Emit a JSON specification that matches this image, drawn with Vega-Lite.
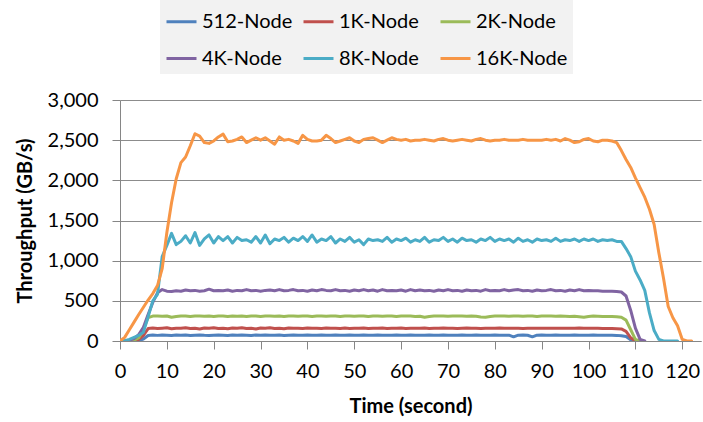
{
  "$schema": "https://vega.github.io/schema/vega-lite/v6.json",
  "width": 581,
  "height": 241,
  "autosize": {"type": "none"},
  "padding": {"left": 120, "top": 100, "right": 2, "bottom": 81},
  "background": "white",
  "config": {
    "view": {"stroke": null},
    "font": "Lato"
  },
  "data": {
    "values": [
      {"t":0,"512-Node":0,"1K-Node":0,"2K-Node":0,"4K-Node":0,"8K-Node":0,"16K-Node":0},
      {"t":1,"512-Node":0,"1K-Node":0,"2K-Node":2,"4K-Node":3,"8K-Node":5,"16K-Node":45},
      {"t":2,"512-Node":0,"1K-Node":2,"2K-Node":5,"4K-Node":10,"8K-Node":20,"16K-Node":140},
      {"t":3,"512-Node":2,"1K-Node":5,"2K-Node":10,"4K-Node":30,"8K-Node":45,"16K-Node":235},
      {"t":4,"512-Node":5,"1K-Node":20,"2K-Node":40,"4K-Node":80,"8K-Node":70,"16K-Node":330},
      {"t":5,"512-Node":25,"1K-Node":70,"2K-Node":150,"4K-Node":170,"8K-Node":110,"16K-Node":420},
      {"t":6,"512-Node":68,"1K-Node":155,"2K-Node":290,"4K-Node":330,"8K-Node":300,"16K-Node":510},
      {"t":7,"512-Node":74,"1K-Node":162,"2K-Node":310,"4K-Node":480,"8K-Node":500,"16K-Node":590},
      {"t":8,"512-Node":70,"1K-Node":155,"2K-Node":312,"4K-Node":600,"8K-Node":580,"16K-Node":690},
      {"t":9,"512-Node":76,"1K-Node":160,"2K-Node":308,"4K-Node":640,"8K-Node":1050,"16K-Node":900},
      {"t":10,"512-Node":72,"1K-Node":165,"2K-Node":312,"4K-Node":620,"8K-Node":1190,"16K-Node":1350},
      {"t":11,"512-Node":68,"1K-Node":152,"2K-Node":295,"4K-Node":615,"8K-Node":1340,"16K-Node":1720},
      {"t":12,"512-Node":74,"1K-Node":160,"2K-Node":305,"4K-Node":625,"8K-Node":1200,"16K-Node":2020},
      {"t":13,"512-Node":71,"1K-Node":158,"2K-Node":312,"4K-Node":620,"8K-Node":1240,"16K-Node":2220},
      {"t":14,"512-Node":76,"1K-Node":165,"2K-Node":310,"4K-Node":635,"8K-Node":1310,"16K-Node":2290},
      {"t":15,"512-Node":69,"1K-Node":155,"2K-Node":305,"4K-Node":625,"8K-Node":1220,"16K-Node":2430},
      {"t":16,"512-Node":73,"1K-Node":160,"2K-Node":312,"4K-Node":630,"8K-Node":1350,"16K-Node":2580},
      {"t":17,"512-Node":76,"1K-Node":150,"2K-Node":310,"4K-Node":620,"8K-Node":1190,"16K-Node":2550},
      {"t":18,"512-Node":71,"1K-Node":162,"2K-Node":308,"4K-Node":625,"8K-Node":1270,"16K-Node":2470},
      {"t":19,"512-Node":68,"1K-Node":158,"2K-Node":312,"4K-Node":645,"8K-Node":1320,"16K-Node":2460},
      {"t":20,"512-Node":73,"1K-Node":165,"2K-Node":306,"4K-Node":625,"8K-Node":1220,"16K-Node":2490},
      {"t":21,"512-Node":76,"1K-Node":155,"2K-Node":312,"4K-Node":630,"8K-Node":1300,"16K-Node":2540},
      {"t":22,"512-Node":72,"1K-Node":160,"2K-Node":310,"4K-Node":625,"8K-Node":1250,"16K-Node":2575},
      {"t":23,"512-Node":69,"1K-Node":152,"2K-Node":305,"4K-Node":635,"8K-Node":1300,"16K-Node":2480},
      {"t":24,"512-Node":75,"1K-Node":162,"2K-Node":312,"4K-Node":620,"8K-Node":1220,"16K-Node":2490},
      {"t":25,"512-Node":71,"1K-Node":158,"2K-Node":308,"4K-Node":630,"8K-Node":1290,"16K-Node":2510},
      {"t":26,"512-Node":76,"1K-Node":165,"2K-Node":312,"4K-Node":625,"8K-Node":1250,"16K-Node":2540},
      {"t":27,"512-Node":73,"1K-Node":155,"2K-Node":305,"4K-Node":640,"8K-Node":1260,"16K-Node":2470},
      {"t":28,"512-Node":69,"1K-Node":160,"2K-Node":310,"4K-Node":625,"8K-Node":1230,"16K-Node":2500},
      {"t":29,"512-Node":75,"1K-Node":150,"2K-Node":312,"4K-Node":630,"8K-Node":1300,"16K-Node":2530},
      {"t":30,"512-Node":72,"1K-Node":162,"2K-Node":306,"4K-Node":620,"8K-Node":1220,"16K-Node":2500},
      {"t":31,"512-Node":76,"1K-Node":158,"2K-Node":310,"4K-Node":630,"8K-Node":1320,"16K-Node":2530},
      {"t":32,"512-Node":71,"1K-Node":165,"2K-Node":312,"4K-Node":635,"8K-Node":1210,"16K-Node":2490},
      {"t":33,"512-Node":73,"1K-Node":155,"2K-Node":308,"4K-Node":625,"8K-Node":1270,"16K-Node":2450},
      {"t":34,"512-Node":75,"1K-Node":160,"2K-Node":312,"4K-Node":640,"8K-Node":1250,"16K-Node":2540},
      {"t":35,"512-Node":69,"1K-Node":152,"2K-Node":305,"4K-Node":625,"8K-Node":1290,"16K-Node":2500},
      {"t":36,"512-Node":73,"1K-Node":162,"2K-Node":310,"4K-Node":630,"8K-Node":1230,"16K-Node":2510},
      {"t":37,"512-Node":75,"1K-Node":158,"2K-Node":312,"4K-Node":640,"8K-Node":1280,"16K-Node":2490},
      {"t":38,"512-Node":71,"1K-Node":160,"2K-Node":308,"4K-Node":625,"8K-Node":1250,"16K-Node":2460},
      {"t":39,"512-Node":73,"1K-Node":155,"2K-Node":310,"4K-Node":630,"8K-Node":1300,"16K-Node":2560},
      {"t":40,"512-Node":75,"1K-Node":162,"2K-Node":312,"4K-Node":620,"8K-Node":1240,"16K-Node":2510},
      {"t":41,"512-Node":73,"1K-Node":158,"2K-Node":306,"4K-Node":635,"8K-Node":1320,"16K-Node":2490},
      {"t":42,"512-Node":72,"1K-Node":160,"2K-Node":310,"4K-Node":625,"8K-Node":1230,"16K-Node":2490},
      {"t":43,"512-Node":75,"1K-Node":155,"2K-Node":312,"4K-Node":640,"8K-Node":1270,"16K-Node":2500},
      {"t":44,"512-Node":73,"1K-Node":162,"2K-Node":308,"4K-Node":630,"8K-Node":1250,"16K-Node":2560},
      {"t":45,"512-Node":71,"1K-Node":158,"2K-Node":310,"4K-Node":625,"8K-Node":1300,"16K-Node":2520},
      {"t":46,"512-Node":75,"1K-Node":160,"2K-Node":312,"4K-Node":640,"8K-Node":1220,"16K-Node":2470},
      {"t":47,"512-Node":73,"1K-Node":155,"2K-Node":306,"4K-Node":625,"8K-Node":1270,"16K-Node":2490},
      {"t":48,"512-Node":72,"1K-Node":162,"2K-Node":310,"4K-Node":630,"8K-Node":1240,"16K-Node":2510},
      {"t":49,"512-Node":75,"1K-Node":156,"2K-Node":312,"4K-Node":620,"8K-Node":1290,"16K-Node":2530},
      {"t":50,"512-Node":73,"1K-Node":160,"2K-Node":308,"4K-Node":635,"8K-Node":1230,"16K-Node":2490},
      {"t":51,"512-Node":71,"1K-Node":158,"2K-Node":310,"4K-Node":625,"8K-Node":1260,"16K-Node":2470},
      {"t":52,"512-Node":75,"1K-Node":162,"2K-Node":312,"4K-Node":640,"8K-Node":1200,"16K-Node":2510},
      {"t":53,"512-Node":73,"1K-Node":155,"2K-Node":305,"4K-Node":625,"8K-Node":1270,"16K-Node":2520},
      {"t":54,"512-Node":72,"1K-Node":160,"2K-Node":310,"4K-Node":635,"8K-Node":1250,"16K-Node":2530},
      {"t":55,"512-Node":75,"1K-Node":158,"2K-Node":312,"4K-Node":620,"8K-Node":1260,"16K-Node":2500},
      {"t":56,"512-Node":73,"1K-Node":162,"2K-Node":308,"4K-Node":640,"8K-Node":1240,"16K-Node":2470},
      {"t":57,"512-Node":71,"1K-Node":155,"2K-Node":310,"4K-Node":625,"8K-Node":1290,"16K-Node":2500},
      {"t":58,"512-Node":73,"1K-Node":160,"2K-Node":312,"4K-Node":630,"8K-Node":1230,"16K-Node":2530},
      {"t":59,"512-Node":75,"1K-Node":158,"2K-Node":306,"4K-Node":625,"8K-Node":1270,"16K-Node":2510},
      {"t":60,"512-Node":73,"1K-Node":162,"2K-Node":310,"4K-Node":635,"8K-Node":1250,"16K-Node":2500},
      {"t":61,"512-Node":72,"1K-Node":156,"2K-Node":312,"4K-Node":620,"8K-Node":1280,"16K-Node":2510},
      {"t":62,"512-Node":75,"1K-Node":160,"2K-Node":310,"4K-Node":640,"8K-Node":1230,"16K-Node":2490},
      {"t":63,"512-Node":73,"1K-Node":158,"2K-Node":306,"4K-Node":625,"8K-Node":1260,"16K-Node":2500},
      {"t":64,"512-Node":71,"1K-Node":160,"2K-Node":308,"4K-Node":635,"8K-Node":1240,"16K-Node":2500},
      {"t":65,"512-Node":73,"1K-Node":162,"2K-Node":295,"4K-Node":625,"8K-Node":1290,"16K-Node":2510},
      {"t":66,"512-Node":75,"1K-Node":156,"2K-Node":305,"4K-Node":630,"8K-Node":1230,"16K-Node":2500},
      {"t":67,"512-Node":73,"1K-Node":160,"2K-Node":310,"4K-Node":620,"8K-Node":1260,"16K-Node":2490},
      {"t":68,"512-Node":72,"1K-Node":158,"2K-Node":312,"4K-Node":635,"8K-Node":1250,"16K-Node":2510},
      {"t":69,"512-Node":75,"1K-Node":162,"2K-Node":310,"4K-Node":625,"8K-Node":1290,"16K-Node":2520},
      {"t":70,"512-Node":73,"1K-Node":158,"2K-Node":308,"4K-Node":640,"8K-Node":1240,"16K-Node":2500},
      {"t":71,"512-Node":71,"1K-Node":160,"2K-Node":310,"4K-Node":625,"8K-Node":1270,"16K-Node":2490},
      {"t":72,"512-Node":73,"1K-Node":156,"2K-Node":312,"4K-Node":630,"8K-Node":1230,"16K-Node":2500},
      {"t":73,"512-Node":75,"1K-Node":160,"2K-Node":310,"4K-Node":620,"8K-Node":1280,"16K-Node":2510},
      {"t":74,"512-Node":73,"1K-Node":162,"2K-Node":308,"4K-Node":635,"8K-Node":1250,"16K-Node":2500},
      {"t":75,"512-Node":72,"1K-Node":158,"2K-Node":310,"4K-Node":625,"8K-Node":1260,"16K-Node":2490},
      {"t":76,"512-Node":75,"1K-Node":160,"2K-Node":308,"4K-Node":630,"8K-Node":1230,"16K-Node":2510},
      {"t":77,"512-Node":73,"1K-Node":155,"2K-Node":300,"4K-Node":620,"8K-Node":1270,"16K-Node":2520},
      {"t":78,"512-Node":71,"1K-Node":160,"2K-Node":296,"4K-Node":640,"8K-Node":1250,"16K-Node":2500},
      {"t":79,"512-Node":73,"1K-Node":158,"2K-Node":306,"4K-Node":625,"8K-Node":1290,"16K-Node":2490},
      {"t":80,"512-Node":75,"1K-Node":160,"2K-Node":310,"4K-Node":630,"8K-Node":1240,"16K-Node":2500},
      {"t":81,"512-Node":73,"1K-Node":162,"2K-Node":312,"4K-Node":625,"8K-Node":1270,"16K-Node":2500},
      {"t":82,"512-Node":72,"1K-Node":158,"2K-Node":310,"4K-Node":640,"8K-Node":1250,"16K-Node":2510},
      {"t":83,"512-Node":73,"1K-Node":160,"2K-Node":308,"4K-Node":625,"8K-Node":1270,"16K-Node":2500},
      {"t":84,"512-Node":52,"1K-Node":158,"2K-Node":310,"4K-Node":635,"8K-Node":1230,"16K-Node":2500},
      {"t":85,"512-Node":73,"1K-Node":160,"2K-Node":312,"4K-Node":640,"8K-Node":1280,"16K-Node":2500},
      {"t":86,"512-Node":75,"1K-Node":156,"2K-Node":308,"4K-Node":625,"8K-Node":1240,"16K-Node":2510},
      {"t":87,"512-Node":71,"1K-Node":160,"2K-Node":310,"4K-Node":630,"8K-Node":1260,"16K-Node":2500},
      {"t":88,"512-Node":52,"1K-Node":158,"2K-Node":312,"4K-Node":620,"8K-Node":1230,"16K-Node":2500},
      {"t":89,"512-Node":73,"1K-Node":160,"2K-Node":306,"4K-Node":635,"8K-Node":1270,"16K-Node":2500},
      {"t":90,"512-Node":75,"1K-Node":158,"2K-Node":310,"4K-Node":625,"8K-Node":1250,"16K-Node":2500},
      {"t":91,"512-Node":73,"1K-Node":160,"2K-Node":312,"4K-Node":630,"8K-Node":1260,"16K-Node":2510},
      {"t":92,"512-Node":72,"1K-Node":158,"2K-Node":310,"4K-Node":640,"8K-Node":1240,"16K-Node":2500},
      {"t":93,"512-Node":75,"1K-Node":160,"2K-Node":308,"4K-Node":625,"8K-Node":1280,"16K-Node":2510},
      {"t":94,"512-Node":73,"1K-Node":158,"2K-Node":310,"4K-Node":630,"8K-Node":1240,"16K-Node":2490},
      {"t":95,"512-Node":71,"1K-Node":160,"2K-Node":308,"4K-Node":620,"8K-Node":1260,"16K-Node":2520},
      {"t":96,"512-Node":73,"1K-Node":158,"2K-Node":306,"4K-Node":635,"8K-Node":1250,"16K-Node":2500},
      {"t":97,"512-Node":75,"1K-Node":160,"2K-Node":308,"4K-Node":625,"8K-Node":1270,"16K-Node":2470},
      {"t":98,"512-Node":73,"1K-Node":162,"2K-Node":302,"4K-Node":640,"8K-Node":1240,"16K-Node":2480},
      {"t":99,"512-Node":72,"1K-Node":158,"2K-Node":295,"4K-Node":625,"8K-Node":1270,"16K-Node":2510},
      {"t":100,"512-Node":73,"1K-Node":160,"2K-Node":305,"4K-Node":630,"8K-Node":1250,"16K-Node":2520},
      {"t":101,"512-Node":75,"1K-Node":158,"2K-Node":310,"4K-Node":625,"8K-Node":1270,"16K-Node":2490},
      {"t":102,"512-Node":73,"1K-Node":158,"2K-Node":308,"4K-Node":625,"8K-Node":1240,"16K-Node":2480},
      {"t":103,"512-Node":72,"1K-Node":156,"2K-Node":306,"4K-Node":620,"8K-Node":1260,"16K-Node":2500},
      {"t":104,"512-Node":73,"1K-Node":156,"2K-Node":305,"4K-Node":620,"8K-Node":1250,"16K-Node":2500},
      {"t":105,"512-Node":72,"1K-Node":155,"2K-Node":304,"4K-Node":620,"8K-Node":1260,"16K-Node":2490},
      {"t":106,"512-Node":70,"1K-Node":152,"2K-Node":302,"4K-Node":617,"8K-Node":1240,"16K-Node":2470},
      {"t":107,"512-Node":66,"1K-Node":150,"2K-Node":295,"4K-Node":610,"8K-Node":1240,"16K-Node":2370},
      {"t":108,"512-Node":55,"1K-Node":120,"2K-Node":260,"4K-Node":560,"8K-Node":1150,"16K-Node":2260},
      {"t":109,"512-Node":15,"1K-Node":40,"2K-Node":140,"4K-Node":380,"8K-Node":1050,"16K-Node":2160},
      {"t":110,"512-Node":0,"1K-Node":0,"2K-Node":20,"4K-Node":160,"8K-Node":870,"16K-Node":2030},
      {"t":111,"2K-Node":0,"4K-Node":20,"8K-Node":760,"16K-Node":1910},
      {"t":112,"4K-Node":0,"8K-Node":630,"16K-Node":1790},
      {"t":113,"8K-Node":350,"16K-Node":1640},
      {"t":114,"8K-Node":130,"16K-Node":1450},
      {"t":115,"8K-Node":20,"16K-Node":1100},
      {"t":116,"8K-Node":0,"16K-Node":780},
      {"t":117,"8K-Node":0,"16K-Node":430},
      {"t":118,"8K-Node":0,"16K-Node":290},
      {"t":119,"8K-Node":0,"16K-Node":190},
      {"t":120,"16K-Node":20},
      {"t":121,"16K-Node":0},
      {"t":122,"16K-Node":0}
    ]
  },
  "transform": [
    {"fold": ["512-Node", "1K-Node", "2K-Node", "4K-Node", "8K-Node", "16K-Node"], "as": ["series", "value"]},
    {"filter": "isValid(datum.value)"}
  ],
  "mark": {"type": "line", "strokeWidth": 3, "strokeJoin": "round", "strokeCap": "round", "clip": true},
  "encoding": {
    "x": {
      "field": "t",
      "type": "quantitative",
      "scale": {"domain": [0, 124], "nice": false, "zero": false},
      "axis": {
        "title": "Time (second)",
        "values": [0, 10, 20, 30, 40, 50, 60, 70, 80, 90, 100, 110, 120],
        "grid": false,
        "domainColor": "#868686",
        "tickColor": "#868686",
        "tickSize": 8,
        "labelFont": "Lato",
        "labelFontSize": 20,
        "labelColor": "#000000",
        "labelPadding": 12,
        "labelFlush": false,
        "labelOverlap": false,
        "titleFont": "Lato",
        "titleFontSize": 20,
        "titleFontWeight": "bold",
        "titleColor": "#000000",
        "titlePadding": 15
      }
    },
    "y": {
      "field": "value",
      "type": "quantitative",
      "scale": {"domain": [0, 3000], "nice": false},
      "axis": {
        "title": "Throughput  (GB/s)",
        "values": [0, 500, 1000, 1500, 2000, 2500, 3000],
        "format": ",.0f",
        "grid": true,
        "gridColor": "#8c8c8c",
        "gridWidth": 1,
        "domainColor": "#868686",
        "tickColor": "#868686",
        "tickSize": 8,
        "labelFont": "Lato",
        "labelFontSize": 20,
        "labelColor": "#000000",
        "labelPadding": 14,
        "labelFlush": false,
        "labelOverlap": false,
        "titleFont": "Lato",
        "titleFontSize": 20,
        "titleFontWeight": "bold",
        "titleColor": "#000000",
        "titlePadding": 12
      }
    },
    "color": {
      "field": "series",
      "type": "nominal",
      "scale": {
        "domain": ["512-Node", "1K-Node", "2K-Node", "4K-Node", "8K-Node", "16K-Node"],
        "range": ["#4F81BD", "#C0504D", "#9BBB59", "#8064A2", "#4BACC6", "#F79646"]
      },
      "legend": {
        "title": null,
        "orient": "none",
        "legendX": 40,
        "legendY": -100,
        "direction": "horizontal",
        "columns": 3,
        "gridAlign": "all",
        "symbolType": "stroke",
        "symbolSize": 900,
        "symbolStrokeWidth": 3,
        "labelFont": "Lato",
        "labelFontSize": 20,
        "labelColor": "#000000",
        "labelOffset": 4,
        "labelLimit": 0,
        "columnPadding": 3,
        "rowPadding": 10,
        "padding": 5,
        "fillColor": "#f2f2f2"
      }
    }
  }
}
